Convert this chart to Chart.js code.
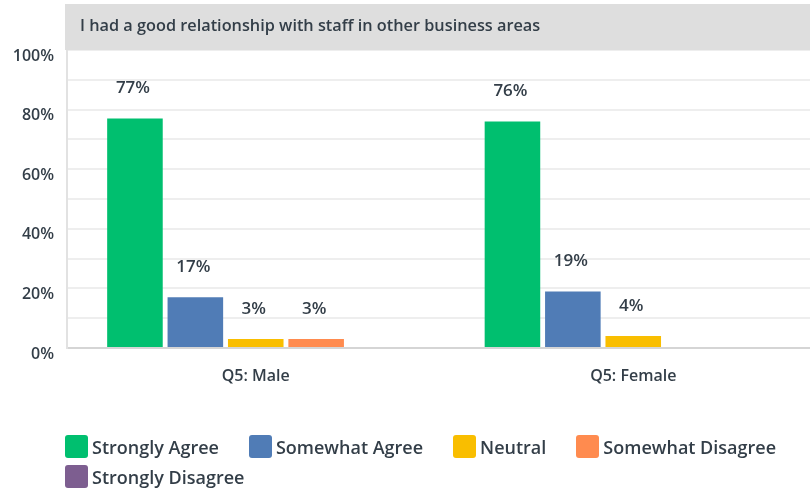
<!DOCTYPE html>
<html>
<head>
<meta charset="utf-8">
<script src="https://cdn.jsdelivr.net/npm/chart.js@4"></script>
<style>
  html, body { margin: 0; padding: 0; background: #ffffff; overflow: hidden; }
  #wrap { position: relative; width: 822px; height: 491px; }
  #legend {
    position: absolute; left: 65px; top: 435px; width: 745px;
    display: flex; flex-wrap: wrap; column-gap: 30px; row-gap: 7px;
    font-family: "Open Sans", sans-serif; font-weight: 600; font-size: 18px;
    color: #333e48;
  }
  .item { display: flex; align-items: center; height: 23px; }
  .swatch { width: 23px; height: 23px; border-radius: 3px; margin-right: 4px; }
</style>
</head>
<body>
<div id="wrap">
  <canvas id="chart" width="822" height="491"></canvas>
  <div id="legend"></div>
</div>
<script>
const title = "I had a good relationship with staff in other business areas";
const categories = ["Q5: Male", "Q5: Female"];
const seriesNames = ["Strongly Agree", "Somewhat Agree", "Neutral", "Somewhat Disagree", "Strongly Disagree"];
const stronglyAgree = [77, 76];
const somewhatAgree = [17, 19];
const neutral = [3, 4];
const somewhatDisagree = [3, 0];
const stronglyDisagree = [0, 0];
const yTicks = [0, 20, 40, 60, 80, 100];
const colors = ["#00bf6f", "#507cb6", "#f9be00", "#ff8b4f", "#7d5e90"];

const ink = "#333e48";
const font = '"Open Sans", sans-serif';

const seriesValues = [stronglyAgree, somewhatAgree, neutral, somewhatDisagree, stronglyDisagree];

// Gray header band with the question text
const headerBand = {
  id: "headerBand",
  afterDraw(chart) {
    const ctx = chart.ctx;
    ctx.save();
    ctx.fillStyle = "#dedede";
    ctx.fillRect(65, 4, chart.width - 65, 46);
    ctx.fillStyle = ink;
    ctx.font = "600 16.3px " + font;
    ctx.textBaseline = "middle";
    ctx.textAlign = "left";
    ctx.fillText(title, 80, 26);
    ctx.restore();
  }
};

// Percentage labels above each non-zero bar
const valueLabels = {
  id: "valueLabels",
  afterDatasetsDraw(chart) {
    const ctx = chart.ctx;
    ctx.save();
    ctx.fillStyle = ink;
    ctx.font = "600 17px " + font;
    ctx.textAlign = "center";
    ctx.textBaseline = "middle";
    chart.data.datasets.forEach((ds, i) => {
      chart.getDatasetMeta(i).data.forEach((bar, j) => {
        const v = ds.data[j];
        if (v > 0) ctx.fillText(v + "%", bar.x - 2, bar.y - 30);
      });
    });
    ctx.restore();
  }
};

const chart = new Chart(document.getElementById("chart"), {
  type: "bar",
  data: {
    labels: categories,
    datasets: seriesNames.map((name, i) => ({
      label: name,
      data: seriesValues[i],
      backgroundColor: colors[i],
      borderWidth: 0,
      barPercentage: 0.92,
      categoryPercentage: 0.8
    }))
  },
  options: {
    responsive: false,
    animation: false,
    layout: { padding: { top: 50, left: 0, right: 0, bottom: 0 } },
    plugins: {
      legend: { display: false },
      tooltip: { enabled: false }
    },
    scales: {
      x: {
        grid: { display: false, drawTicks: false },
        border: { display: true, color: "#d5d5d5", width: 2 },
        ticks: {
          color: ink,
          font: { family: font, size: 16, weight: "600" },
          padding: 19
        },
        afterFit(scale) { scale.height = 143; }
      },
      y: {
        min: 0,
        max: 100,
        grid: { color: "#eeeeee", lineWidth: 2, drawTicks: false },
        border: { display: true, color: "#e2e2e2", width: 2 },
        ticks: {
          stepSize: 10,
          autoSkip: false,
          color: ink,
          font: { family: font, size: 16, weight: "600" },
          padding: 13,
          labelOffset: 6,
          callback: v => (yTicks.includes(v) ? v + "%" : "")
        },
        afterFit(scale) { scale.width = 67; }
      }
    }
  },
  plugins: [headerBand, valueLabels]
});

// Legend built from the chart's datasets
const legend = document.getElementById("legend");
chart.data.datasets.forEach(ds => {
  const item = document.createElement("div");
  item.className = "item";
  const sw = document.createElement("span");
  sw.className = "swatch";
  sw.style.background = ds.backgroundColor;
  const txt = document.createElement("span");
  txt.textContent = ds.label;
  item.appendChild(sw);
  item.appendChild(txt);
  legend.appendChild(item);
});
</script>
</body>
</html>
